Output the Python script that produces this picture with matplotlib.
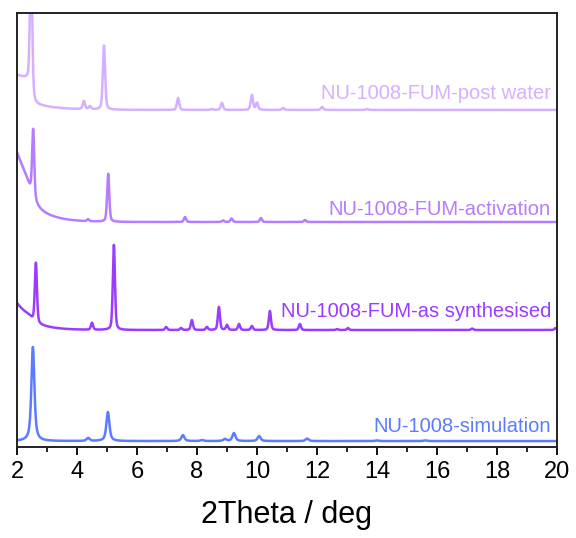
import numpy as np
import matplotlib
matplotlib.use("Agg")
import matplotlib.pyplot as plt
from matplotlib.ticker import MultipleLocator

plt.rcParams['font.family'] = ['Liberation Sans', 'DejaVu Sans']

# peak lists: position (deg), height, per pattern
sim_pos = [2.53, 4.37, 5.03, 7.53, 8.17, 8.93, 9.23, 10.07, 11.67, 14.0, 15.6]
sim_h = [94, 3, 29, 6, 1, 2, 8, 5, 2.5, 0.7, 0.7]

syn_pos = [2.63, 4.50, 5.23, 6.97, 7.47, 7.83, 8.33, 8.73, 9.00, 9.40, 9.83,
           10.43, 11.43, 12.67, 13.03, 17.17, 19.95]
syn_h = [60, 7, 85, 3, 2, 10, 3, 23, 5, 6, 4, 19, 6, 1, 2, 1.5, 2]

act_pos = [2.54, 4.37, 5.04, 7.60, 8.87, 9.15, 10.13, 11.60]
act_h = [68, 2, 48, 5, 1.5, 3.5, 4, 2]

wat_pos = [2.47, 4.23, 4.43, 4.90, 7.37, 8.50, 8.83, 9.83, 10.00, 10.87, 12.17, 13.67]
wat_h = [140, 8, 3, 64, 12, 1, 7, 15, 7, 2, 3, 1]

labels = ['NU-1008-simulation', 'NU-1008-FUM-as synthesised',
          'NU-1008-FUM-activation', 'NU-1008-FUM-post water']
colors = ['#5b7cff', '#9a3cff', '#b67cff', '#d6b0ff']
offsets = [6, 117, 225, 337]
label_y = [15, 130, 232, 348]
hwhm = [0.06, 0.042, 0.042, 0.045]
eta = [0.7, 0.4, 0.4, 0.4]
# low-angle background: exp amplitude, decay, step amplitude, step centre, step width
bg_amp = [0, 22, 48, 12]
bg_tau = [1, 0.55, 0.575, 0.8]
step_amp = [0, 5, 22, 23]
step_x = [2.5, 2.5, 2.45, 2.45]
step_w = [0.05, 0.05, 0.1, 0.04]

peaks = [(sim_pos, sim_h), (syn_pos, syn_h), (act_pos, act_h), (wat_pos, wat_h)]

x = np.linspace(2, 20, 3601)


def pseudo_voigt(x, x0, h, w, e):
    lor = w**2 / ((x - x0)**2 + w**2)
    gau = np.exp(-np.log(2) * ((x - x0) / w)**2)
    return h * (e * lor + (1 - e) * gau)


fig = plt.figure(figsize=(5.76, 5.38), dpi=100)
ax = fig.add_axes([0.0295, 0.169, 0.9375, 0.807])

for i in range(4):
    y = np.full_like(x, offsets[i], dtype=float)
    y += bg_amp[i] * np.exp(-(x - 2) / bg_tau[i])
    y += step_amp[i] / (1 + np.exp((x - step_x[i]) / step_w[i]))
    for p, h in zip(*peaks[i]):
        y += pseudo_voigt(x, p, h, hwhm[i], eta[i])
    ax.plot(x, y, color=colors[i], lw=1.8)
    ax.text(19.8, label_y[i], labels[i], color=colors[i], fontsize=14.5,
            ha='right', va='baseline')

ax.set_xlim(2, 20)
ax.set_ylim(0, 434)
ax.set_yticks([])
ax.xaxis.set_major_locator(MultipleLocator(2))
ax.xaxis.set_minor_locator(MultipleLocator(1))
ax.tick_params(axis='x', which='major', direction='out', length=6, width=1.3,
               labelsize=17, pad=4)
ax.tick_params(axis='x', which='minor', direction='out', length=3.5, width=1.2)
for s in ax.spines.values():
    s.set_linewidth(1.4)
    s.set_color('#222222')
ax.set_xlabel('2Theta / deg', fontsize=22, labelpad=12)

fig.savefig('out.png', dpi=100)
